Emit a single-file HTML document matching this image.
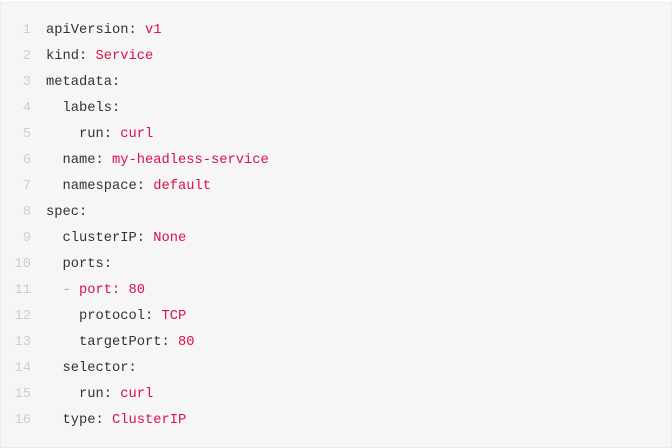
<!DOCTYPE html>
<html>
<head>
<meta charset="utf-8">
<style>
  html, body { margin: 0; padding: 0; background: #ffffff; }
  body { width: 672px; height: 448px; position: relative; overflow: hidden; }
  .box {
    position: absolute; left: 0; top: 2px; width: 670px; height: 444px;
    background: #f6f6f6; border: 1px solid #ececec;
  }
  .code {
    position: absolute; left: 0; top: 18px;
    font-family: "Liberation Mono", monospace; font-size: 13.75px;
    line-height: 26px; white-space: pre; color: #333;
  }
  .ln { display: inline-block; width: 31px; text-align: right; color: #cfcfcf; margin-right: 15px; }
  .v { color: #d81147; }
  .d { color: #aab; }
</style>
</head>
<body>
<div class="box"></div>
<div class="code"><div><span class="ln">1</span>apiVersion: <span class="v">v1</span></div><div><span class="ln">2</span>kind: <span class="v">Service</span></div><div><span class="ln">3</span>metadata:</div><div><span class="ln">4</span>  labels:</div><div><span class="ln">5</span>    run: <span class="v">curl</span></div><div><span class="ln">6</span>  name: <span class="v">my-headless-service</span></div><div><span class="ln">7</span>  namespace: <span class="v">default</span></div><div><span class="ln">8</span>spec:</div><div><span class="ln">9</span>  clusterIP: <span class="v">None</span></div><div><span class="ln">10</span>  ports:</div><div><span class="ln">11</span>  <span class="d">-</span> <span class="v">port: 80</span></div><div><span class="ln">12</span>    protocol: <span class="v">TCP</span></div><div><span class="ln">13</span>    targetPort: <span class="v">80</span></div><div><span class="ln">14</span>  selector:</div><div><span class="ln">15</span>    run: <span class="v">curl</span></div><div><span class="ln">16</span>  type: <span class="v">ClusterIP</span></div></div>
</body>
</html>
